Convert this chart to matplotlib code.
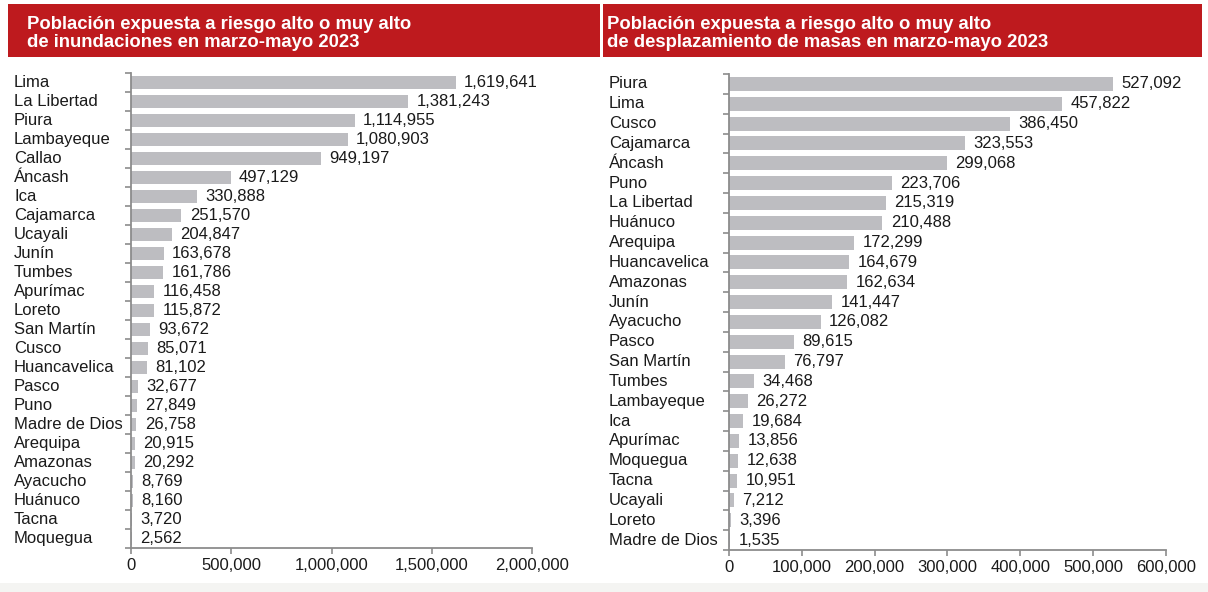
import matplotlib
matplotlib.use("Agg")
import matplotlib.pyplot as plt
from matplotlib.patches import Rectangle
from matplotlib.transforms import blended_transform_factory
from matplotlib.ticker import FuncFormatter, FixedLocator

plt.rcParams['font.family'] = ['Liberation Sans', 'DejaVu Sans']

title_left = "Población expuesta a riesgo alto o muy alto\nde inundaciones en marzo-mayo 2023"
title_right = "Población expuesta a riesgo alto o muy alto\nde desplazamiento de masas en marzo-mayo 2023"

flood_regions = ["Lima", "La Libertad", "Piura", "Lambayeque", "Callao", "Áncash", "Ica",
                 "Cajamarca", "Ucayali", "Junín", "Tumbes", "Apurímac", "Loreto", "San Martín",
                 "Cusco", "Huancavelica", "Pasco", "Puno", "Madre de Dios", "Arequipa",
                 "Amazonas", "Ayacucho", "Huánuco", "Tacna", "Moquegua"]
flood_values = [1619641, 1381243, 1114955, 1080903, 949197, 497129, 330888,
                251570, 204847, 163678, 161786, 116458, 115872, 93672,
                85071, 81102, 32677, 27849, 26758, 20915,
                20292, 8769, 8160, 3720, 2562]

mass_regions = ["Piura", "Lima", "Cusco", "Cajamarca", "Áncash", "Puno", "La Libertad",
                "Huánuco", "Arequipa", "Huancavelica", "Amazonas", "Junín", "Ayacucho",
                "Pasco", "San Martín", "Tumbes", "Lambayeque", "Ica", "Apurímac",
                "Moquegua", "Tacna", "Ucayali", "Loreto", "Madre de Dios"]
mass_values = [527092, 457822, 386450, 323553, 299068, 223706, 215319,
               210488, 172299, 164679, 162634, 141447, 126082,
               89615, 76797, 34468, 26272, 19684, 13856,
               12638, 10951, 7212, 3396, 1535]

flood_xticks = [0, 500000, 1000000, 1500000, 2000000]
mass_xticks = [0, 100000, 200000, 300000, 400000, 500000, 600000]

W, H = 1208, 592
fig = plt.figure(figsize=(W / 100, H / 100), dpi=100)
fig.patch.set_facecolor("white")

RED = "#BE1A1E"
BAR = "#BDBDC1"
SPINE = "#8C8C8C"
TXT = "#1A1A1A"
FS = 12

def px(x0, y0, x1, y1):
    return [x0 / W, 1 - y1 / H, (x1 - x0) / W, (y1 - y0) / H]

# header boxes
for (x0, x1), title, tx in [((8, 600), title_left, 27), ((603, 1202), title_right, 607)]:
    r = px(x0, 4, x1, 57)
    fig.patches.append(Rectangle((r[0], r[1]), r[2], r[3], transform=fig.transFigure,
                                 facecolor=RED, edgecolor="none", zorder=0))
    fig.text(tx / W, 1 - 33.5 / H, title, color="white", fontsize=13.3, fontweight="bold",
             va="center", ha="left", linespacing=1.08)

# bottom band
fig.patches.append(Rectangle((0, 0), 1, 9 / H, transform=fig.transFigure,
                             facecolor="#F4F4F2", edgecolor="none", zorder=0))

def draw(rect, regions, values, xticks, label_x):
    ax = fig.add_axes(rect)
    n = len(regions)
    y = list(range(n))
    ax.barh(y, values, height=0.7, color=BAR, edgecolor="none")
    ax.set_ylim(n - 0.5, -0.5)
    ax.set_xlim(xticks[0], xticks[-1])
    ax.xaxis.set_major_locator(FixedLocator(xticks))
    ax.xaxis.set_major_formatter(FuncFormatter(lambda v, p: f"{int(v):,}"))
    ax.yaxis.set_major_locator(FixedLocator([i - 0.5 for i in range(n + 1)]))
    ax.set_yticklabels([])
    for s in ["top", "right"]:
        ax.spines[s].set_visible(False)
    for s in ["left", "bottom"]:
        ax.spines[s].set_color(SPINE)
        ax.spines[s].set_linewidth(1.3)
    ax.tick_params(axis="both", direction="out", length=4, width=1.2, color=SPINE)
    ax.tick_params(axis="x", labelsize=FS, labelcolor=TXT, pad=3)
    trans = blended_transform_factory(fig.transFigure, ax.transData)
    for yi, (name, v) in enumerate(zip(regions, values)):
        ax.text(label_x / W, yi, name, transform=trans, ha="left", va="center",
                fontsize=FS, color=TXT)
        ax.annotate(f"{v:,}", (v, yi), xytext=(6, 0), textcoords="offset points",
                    ha="left", va="center", fontsize=FS, color=TXT)
    return ax

draw(px(131, 73, 532, 548), flood_regions, flood_values, flood_xticks, 14)
draw(px(729, 74, 1166, 550), mass_regions, mass_values, mass_xticks, 609)

fig.savefig("out.png", dpi=100)
